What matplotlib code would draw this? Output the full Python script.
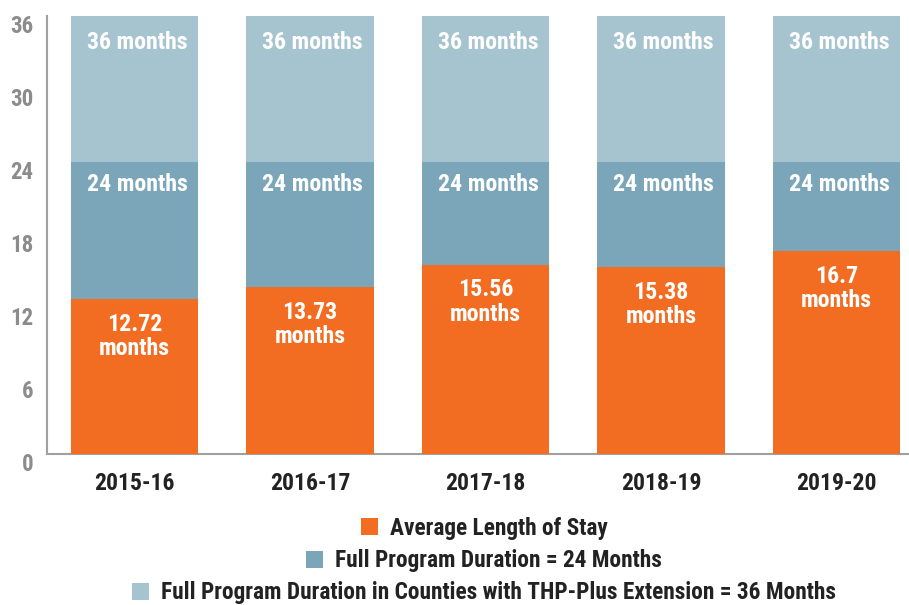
import matplotlib
matplotlib.use("Agg")
import matplotlib.pyplot as plt
import matplotlib.transforms as mtransforms
from matplotlib import font_manager as fm
from matplotlib.patches import Patch

years = ['2015-16', '2016-17', '2017-18', '2018-19', '2019-20']
avg_stay = [12.72, 13.73, 15.56, 15.38, 16.7]
full_24 = [24, 24, 24, 24, 24]
full_36 = [36, 36, 36, 36, 36]
avg_labels = ['12.72\nmonths', '13.73\nmonths', '15.56\nmonths', '15.38\nmonths', '16.7\nmonths']
yticks = [0, 6, 12, 18, 24, 30, 36]
legend_labels = ['Average Length of Stay',
                 'Full Program Duration = 24 Months',
                 'Full Program Duration in Counties with THP-Plus Extension = 36 Months']

C_ORANGE = '#F26C21'
C_MID = '#7BA6BA'
C_LIGHT = '#A6C3D0'


def _is_bold(e):
    w = e.weight
    if isinstance(w, str):
        return w.lower() in ('bold', 'semibold', 'demibold', 'demi', 'heavy', 'extra bold', 'black')
    return w >= 600


def _cond_rank(e):
    s = e.stretch
    n = (e.name + ' ' + e.fname).lower()
    if isinstance(s, str):
        s = s.lower()
        order = {'condensed': 0, 'semi-condensed': 1, 'extra-condensed': 2, 'ultra-condensed': 3}
        if s in order:
            return order[s]
    else:
        if s < 500:
            return 0 if s >= 300 else 2
    if 'narrow' in n or 'semicondensed' in n:
        return 1
    if 'condensed' in n and 'extra' not in n:
        return 0
    if 'condensed' in n:
        return 2
    return None


def find_font():
    prefs = ['liberation sans narrow', 'roboto condensed', 'noto sans', 'dejavu sans',
             'open sans', 'roboto', 'lato', 'inter', 'liberation sans']
    best = None
    for pi, p in enumerate(prefs):
        for e in fm.fontManager.ttflist:
            if not e.name.lower().startswith(p):
                continue
            if 'mono' in e.name.lower() or 'italic' in e.style.lower() or 'oblique' in e.style.lower():
                continue
            if 'italic' in e.fname.lower():
                continue
            r = _cond_rank(e)
            if r is None or not _is_bold(e):
                continue
            key = (r, pi, abs((e.weight if not isinstance(e.weight, str) else 700) - 700))
            if best is None or key < best[0]:
                best = (key, e.fname)
    return best[1] if best else None


FNAME = find_font()


def fp(size, bold=True):
    if FNAME:
        return fm.FontProperties(fname=FNAME, size=size)
    return fm.FontProperties(family='DejaVu Sans', weight='bold' if bold else 'normal',
                             size=size * 0.85)


fig = plt.figure(figsize=(9.09, 6.05), dpi=100)
ax = fig.add_axes([47/909, 1-454/605, 1-47/909, (454-16)/605])

x = list(range(len(years)))
w = 0.724
ax.bar(x, full_36, width=w, color=C_LIGHT, zorder=1)
ax.bar(x, full_24, width=w, color=C_MID, zorder=2)
ax.bar(x, avg_stay, width=w, color=C_ORANGE, zorder=3)

for xi, v36, v24, va, lab in zip(x, full_36, full_24, avg_stay, avg_labels):
    ax.annotate(f'{v36} months', (xi, v36), xytext=(2, -19), textcoords='offset points',
                ha='center', va='center', color='white', fontproperties=fp(17.2), zorder=5)
    ax.annotate(f'{v24} months', (xi, v24), xytext=(2, -16.5), textcoords='offset points',
                ha='center', va='center', color='white', fontproperties=fp(17.2), zorder=5)
    ax.annotate(lab, (xi, va), xytext=(0, -27), textcoords='offset points',
                ha='center', va='center', color='white', fontproperties=fp(17.2),
                linespacing=1.08, zorder=5)

ax.set_ylim(0, 36)
ax.set_xlim(-0.4986, 4 + (909-836.5)/175.5)
ax.set_yticks(yticks)
ax.set_yticklabels([str(t) for t in yticks])
ax.set_xticks(x)
ax.set_xticklabels(years)
ax.tick_params(axis='y', length=0, pad=10, labelcolor='#8C8C8C')
ax.tick_params(axis='x', length=0, pad=13, labelcolor='#222222')
for lbl in ax.get_yticklabels():
    lbl.set_fontproperties(fp(16.5))
for lbl in ax.get_xticklabels():
    lbl.set_fontproperties(fp(17))

off = mtransforms.ScaledTranslation(0, -0.08, fig.dpi_scale_trans)
for lbl in ax.get_yticklabels():
    lbl.set_transform(lbl.get_transform() + off)

for s in ['top', 'right']:
    ax.spines[s].set_visible(False)
ax.spines['left'].set_color('#A0A0A0')
ax.spines['bottom'].set_color('#A0A0A0')
ax.spines['left'].set_linewidth(1.5)
ax.spines['bottom'].set_linewidth(1.5)
ax.spines['left'].set_zorder(6)

colors = [C_ORANGE, C_MID, C_LIGHT]
ys = [1-528/605, 1-561/605, 1-593/605]
for lab, col, yy in zip(legend_labels, colors, ys):
    leg = fig.legend(handles=[Patch(facecolor=col, label=lab)], loc='center',
                     bbox_to_anchor=(484/909, yy), frameon=False,
                     prop=fp(16.8),
                     handlelength=0.75, handleheight=0.75, handletextpad=0.5,
                     borderpad=0, borderaxespad=0)
    for t in leg.get_texts():
        t.set_color('#222222')

fig.savefig('out.png', dpi=100)
